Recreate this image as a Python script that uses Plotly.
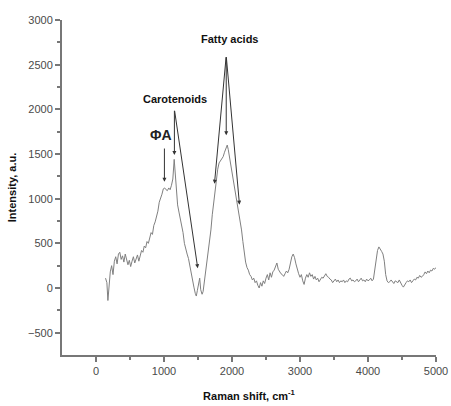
import plotly.graph_objects as go

raman_shift = [140,160,175,190,210,230,250,270,290,310,330,350,370,390,410,430,450,470,490,510,530,550,570,590,610,630,650,670,690,710,730,750,770,790,810,830,850,870,890,910,930,950,970,990,1010,1030,1050,1070,1090,1110,1130,1150,1165,1180,1200,1220,1240,1260,1280,1300,1320,1340,1360,1380,1400,1420,1440,1460,1475,1490,1510,1525,1540,1560,1575,1590,1610,1630,1650,1670,1690,1710,1730,1750,1770,1790,1810,1830,1850,1870,1890,1910,1930,1945,1960,1980,2000,2020,2040,2060,2080,2100,2120,2140,2160,2180,2200,2220,2240,2260,2280,2300,2320,2340,2360,2380,2400,2420,2440,2460,2480,2500,2520,2540,2560,2580,2600,2620,2640,2660,2680,2700,2720,2740,2760,2780,2800,2820,2840,2860,2880,2900,2920,2940,2960,2980,3000,3020,3040,3060,3080,3100,3120,3140,3160,3180,3200,3220,3240,3260,3280,3300,3320,3340,3360,3380,3400,3420,3440,3460,3480,3500,3520,3540,3560,3580,3600,3620,3640,3660,3680,3700,3720,3740,3760,3780,3800,3820,3840,3860,3880,3900,3920,3940,3960,3980,4000,4020,4040,4060,4080,4100,4120,4140,4160,4180,4200,4220,4240,4260,4280,4300,4320,4340,4360,4380,4400,4420,4440,4460,4480,4500,4520,4540,4560,4580,4600,4620,4640,4660,4680,4700,4720,4740,4760,4780,4800,4820,4840,4860,4880,4900,4920,4940,4960,4980,5000]
intensity = [110,60,-140,20,180,250,150,300,350,270,380,400,320,360,290,380,330,260,310,240,300,350,280,330,370,300,380,420,400,470,450,520,500,560,620,600,700,740,800,860,960,1000,1050,1110,1120,1100,1090,1120,1100,1150,1220,1440,1250,1050,930,850,780,700,620,500,430,380,330,240,150,80,10,-60,-90,-30,80,110,-20,-70,-40,50,120,250,350,500,650,820,950,1100,1230,1330,1400,1420,1450,1470,1520,1560,1600,1550,1480,1430,1300,1230,1150,1050,950,850,760,650,520,380,290,230,200,150,130,90,110,60,80,30,0,60,20,80,50,110,150,90,170,120,180,200,240,280,210,180,160,150,130,160,190,170,210,280,350,380,340,270,200,160,120,150,80,40,110,150,120,170,130,150,100,130,90,110,70,90,120,110,140,160,130,120,100,90,60,80,100,70,90,60,80,70,90,60,80,70,100,110,80,90,70,80,100,70,90,110,80,90,70,100,80,90,110,80,100,200,330,420,460,440,410,380,300,150,80,60,70,90,70,50,80,70,60,90,50,30,10,40,60,80,70,90,60,80,100,90,120,110,140,120,130,150,180,160,190,170,200,190,220,210,230]

x_ticks = [0, 1000, 2000, 3000, 4000, 5000]
y_ticks = [-500, 0, 500, 1000, 1500, 2000, 2500, 3000]

fig = go.Figure()
fig.add_trace(go.Scatter(x=raman_shift, y=intensity, mode="lines",
                         line=dict(color="#808080", width=1), showlegend=False))

arrow_style = dict(showarrow=True, arrowhead=2, arrowsize=0.8, arrowwidth=1,
                   arrowcolor="#333333", axref="x", ayref="y", xref="x", yref="y", text="")
fa_apex = (1915, 2600)
for tx, ty in [(1742, 1167), (1915, 1711), (2110, 933)]:
    fig.add_annotation(x=tx, y=ty, ax=fa_apex[0], ay=fa_apex[1], **arrow_style)
car_apex = (1153, 2000)
for tx, ty in [(1153, 1489), (1496, 222)]:
    fig.add_annotation(x=tx, y=ty, ax=car_apex[0], ay=car_apex[1], **arrow_style)
fig.add_annotation(x=1006, y=1189, ax=1006, ay=1578, **arrow_style)

label_font = dict(family="Liberation Sans, Arial", size=11, color="#111111")
fig.add_annotation(x=1963, y=2790, text="<b>Fatty acids</b>", showarrow=False, font=label_font)
fig.add_annotation(x=1168, y=2115, text="<b>Carotenoids</b>", showarrow=False, font=label_font)
fig.add_annotation(x=962, y=1711, text="<b>ΦA</b>", showarrow=False,
                   font=dict(family="Liberation Sans, Arial", size=14, color="#222222"))

axis_common = dict(showline=True, linecolor="#777777", linewidth=2, showgrid=False,
                   zeroline=False, ticks="outside", ticklen=5, tickwidth=1.5, tickcolor="#777777",
                   tickfont=dict(family="Liberation Sans, Arial", size=11, color="#4a4a4a"),
                   mirror=False, automargin=False)
fig.update_xaxes(range=[-500, 5000], tickvals=x_ticks,
                 minor=dict(tickvals=[500, 1500, 2500, 3500, 4500], ticks="outside",
                            ticklen=3, tickcolor="#777777"),
                 title=dict(text="<b>Raman shift, cm<sup>-1</sup></b>", standoff=16,
                            font=dict(family="Liberation Sans, Arial", size=11, color="#111111")),
                 **axis_common)
fig.update_yaxes(range=[-750, 3000], tickvals=y_ticks,
                 minor=dict(tickvals=[-250, 250, 750, 1250, 1750, 2250, 2750], ticks="outside",
                            ticklen=3, tickcolor="#777777"),
                 title=dict(text="<b>Intensity, a.u.</b>", standoff=9,
                            font=dict(family="Liberation Sans, Arial", size=11, color="#111111")),
                 **axis_common)
fig.update_layout(width=451, height=406, plot_bgcolor="white", paper_bgcolor="white",
                  margin=dict(l=62, r=15, t=20, b=51))
fig.write_html("out.html", config={"displayModeBar": False},
               post_script="document.body.style.margin='0';document.body.style.overflow='hidden';")
